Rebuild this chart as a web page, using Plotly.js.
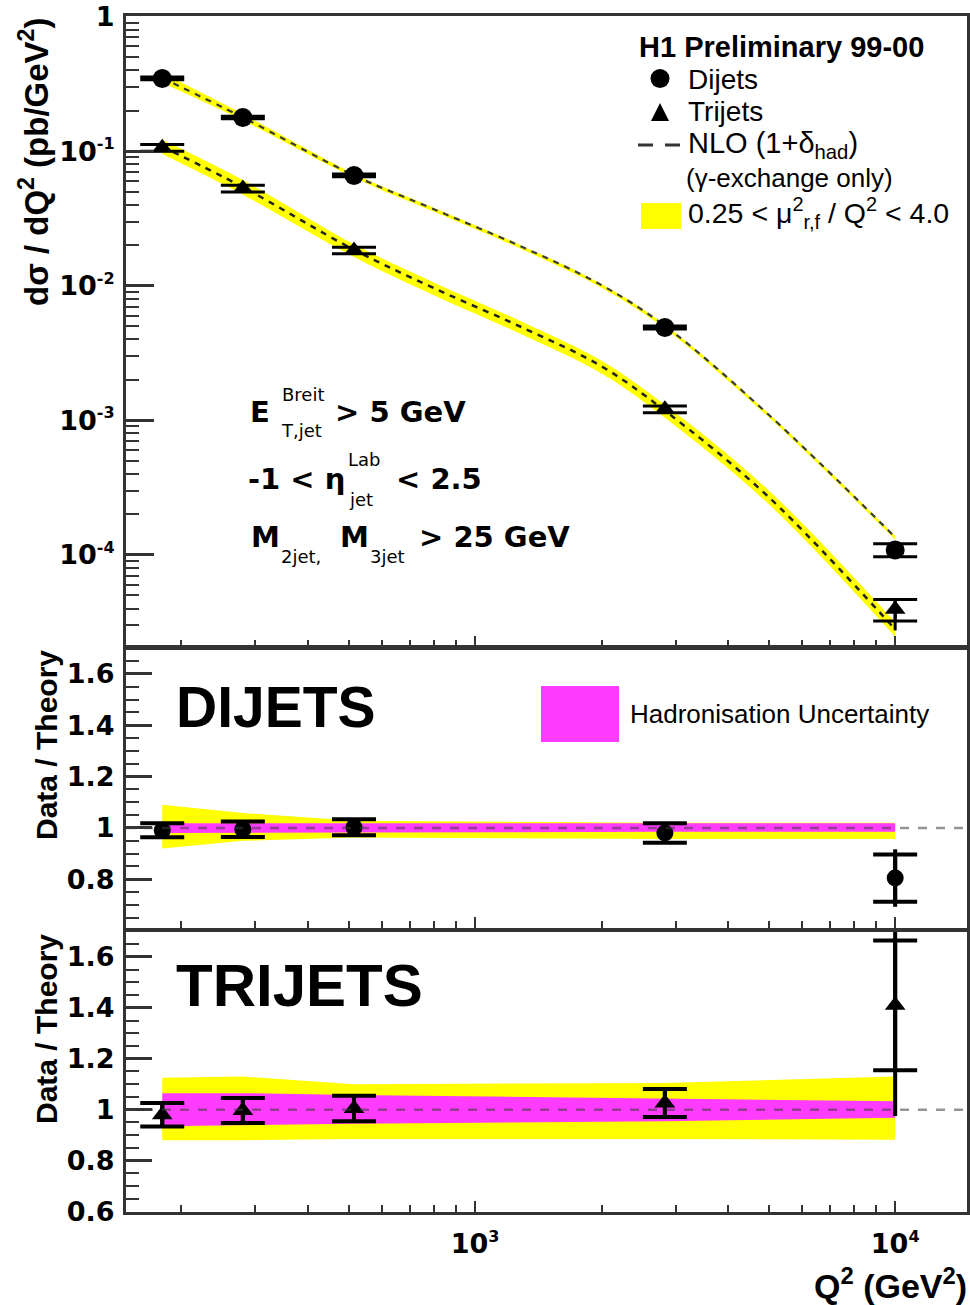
<!DOCTYPE html>
<html><head><meta charset="utf-8">
<script src="https://cdn.plot.ly/plotly-3.0.1.min.js"></script>
<style>html,body{margin:0;padding:0;background:#fff}#chart{width:970px;height:1305px}</style>
</head><body><div id="chart"></div>
<script>
// ---------- data ----------
const q2 = [180, 280, 515, 2830, 10000];              // GeV^2 (bin centres)

// top panel: cross sections dσ/dQ² (pb/GeV²)
const dijetXsec      = [0.347, 0.178, 0.066, 0.0049, 1.09e-4];
const dijetStatErr   = [0.008, 0.004, 0.0015, 0.00012, 1.2e-5];
const dijetTotErr    = [0.008, 0.004, 0.0015, 0.00012, 1.45e-5];
const trijetXsec     = [0.106, 0.0528, 0.0183, 0.00121, 3.95e-5];
const trijetStatErr  = [0.006, 0.003, 0.001, 0.00007, 0.72e-5];
const trijetTotErrUp = [0.006, 0.003, 0.001, 0.00007, 0.72e-5];
const trijetTotErrDn = [0.006, 0.003, 0.001, 0.00007, 1.2e-5];

// NLO (1+δhad) curves, top panel
const nloQ2     = [180, 280, 515, 800, 1300, 2000, 2830, 5000, 10000];
const nloDijet  = [0.350, 0.178, 0.066, 0.0369, 0.0193, 0.0101, 0.00503, 0.00110, 1.355e-4];
const nloTrijet = [0.108, 0.054, 0.0185, 0.00957, 0.00487, 0.00252, 0.00118, 2.69e-4, 2.8e-5];
// relative scale uncertainty (0.25 < μ²/Q² < 4) along the NLO curves
const nloDijetScaleUp   = [1.09, 1.058, 1.028, 1.024, 1.02, 1.02, 1.02, 1.02, 1.02];
const nloDijetScaleDn   = [0.92, 0.95, 0.963, 0.96, 0.958, 0.957, 0.957, 0.957, 0.957];
const nloTrijetScaleUp  = [1.125, 1.13, 1.10, 1.10, 1.10, 1.10, 1.105, 1.12, 1.13];
const nloTrijetScaleDn  = [0.88, 0.88, 0.885, 0.885, 0.885, 0.885, 0.885, 0.884, 0.882];

// middle panel: dijet Data / Theory
const dijetRatio     = [0.991, 0.995, 1.003, 0.98, 0.805];
const dijetRatioStat = [0.027, 0.030, 0.031, 0.038, 0.092];
const dijetRatioTot  = [0.027, 0.030, 0.031, 0.038, 0.112];
const dijetScaleHi   = [1.09, 1.058, 1.028, 1.02, 1.02];
const dijetScaleLo   = [0.92, 0.95, 0.963, 0.957, 0.957];
const dijetHadHi     = [1.018, 1.018, 1.018, 1.018, 1.018];
const dijetHadLo     = [0.98, 0.98, 0.982, 0.985, 0.985];

// bottom panel: trijet Data / Theory
const trijetRatio      = [0.98, 0.997, 1.005, 1.026, 1.41];
const trijetRatioStat  = [0.046, 0.049, 0.050, 0.055, 0.255];
const trijetRatioTotUp = [0.046, 0.049, 0.050, 0.055, 0.60];
const trijetRatioTotDn = [0.046, 0.049, 0.050, 0.055, 0.435];
const trijetScaleHi    = [1.125, 1.13, 1.10, 1.105, 1.13];
const trijetScaleLo    = [0.88, 0.88, 0.885, 0.885, 0.882];
const trijetHadHi      = [1.065, 1.065, 1.058, 1.045, 1.033];
const trijetHadLo      = [0.935, 0.94, 0.945, 0.955, 0.968];

// tick labels
const yTopTickVals = [1e-4, 1e-3, 1e-2, 1e-1, 1];
const yTopTickText = ['10<sup><span style="font-size:16px">-4</span></sup>', '10<sup><span style="font-size:16px">-3</span></sup>',
                      '10<sup><span style="font-size:16px">-2</span></sup>', '10<sup><span style="font-size:16px">-1</span></sup>', '1'];
const yRatioTickVals = [0.6, 0.8, 1, 1.2, 1.4, 1.6];
const xTickVals = [1000, 10000];
const xTickText = ['10<sup><span style="font-size:16px">3</span></sup>', '10<sup><span style="font-size:16px">4</span></sup>'];

// ---------- drawing ----------
const FONT = 'Liberation Sans, Arial, Helvetica, sans-serif';
const DV = 'DejaVu Sans, Verdana, sans-serif';
const YEL = '#ffff00', MAG = '#ff3cff';
const L = 126, R = 967, T = 16, B = 1212, W = R - L, H = B - T;
const px = x => (x - L) / W, py = y => (B - y) / H;

function band(x, lo, hi, color, xa, ya, shape) {
  return [
    {x: x, y: lo, xaxis: xa, yaxis: ya, mode: 'lines', line: {width: 0, color: color, shape: shape || 'linear'}, hoverinfo: 'skip', showlegend: false},
    {x: x, y: hi, xaxis: xa, yaxis: ya, mode: 'lines', line: {width: 0, color: color, shape: shape || 'linear'}, fill: 'tonexty', fillcolor: color, hoverinfo: 'skip', showlegend: false}
  ];
}
const mul = (a, b) => a.map((v, i) => v * b[i]);

function dataTraces(x, y, statErr, totUp, totDn, symbol, size, xa, ya, thick) {
  return [
    {x: x, y: y, xaxis: xa, yaxis: ya, mode: 'markers', marker: {size: 1, opacity: 0},
     error_y: {type: 'data', symmetric: false, array: totUp, arrayminus: totDn, width: 0, thickness: thick, color: '#000'},
     showlegend: false, hoverinfo: 'skip'},
    {x: x, y: y, xaxis: xa, yaxis: ya, mode: 'markers', marker: {symbol: symbol, size: size, color: '#000'},
     error_y: {type: 'data', array: statErr, width: 22, thickness: thick, color: '#000'},
     showlegend: false}
  ];
}

const traces = [
  // top panel
  ...band(nloQ2, mul(nloDijet, nloDijetScaleDn), mul(nloDijet, nloDijetScaleUp), YEL, 'x', 'y', 'spline'),
  ...band(nloQ2, mul(nloTrijet, nloTrijetScaleDn), mul(nloTrijet, nloTrijetScaleUp), YEL, 'x', 'y', 'spline'),
  {x: nloQ2, y: nloDijet, xaxis: 'x', yaxis: 'y', mode: 'lines', line: {color: '#3a3a3a', width: 2.2, dash: '6px,6px', shape: 'spline'}, showlegend: false},
  {x: nloQ2, y: nloTrijet, xaxis: 'x', yaxis: 'y', mode: 'lines', line: {color: '#222', width: 2.5, dash: '6px,6px', shape: 'spline'}, showlegend: false},
  ...dataTraces(q2, dijetXsec, dijetStatErr, dijetTotErr, dijetTotErr, 'circle', 19, 'x', 'y', 3),
  ...dataTraces(q2, trijetXsec, trijetStatErr, trijetTotErrUp, trijetTotErrDn, 'triangle-up', 18, 'x', 'y', 3),
  // middle panel
  ...band(q2, dijetScaleLo, dijetScaleHi, YEL, 'x2', 'y2'),
  ...band(q2, dijetHadLo, dijetHadHi, MAG, 'x2', 'y2'),
  ...dataTraces(q2, dijetRatio, dijetRatioStat, dijetRatioTot, dijetRatioTot, 'circle', 17, 'x2', 'y2', 4),
  // bottom panel
  ...band(q2, trijetScaleLo, trijetScaleHi, YEL, 'x3', 'y3'),
  ...band(q2, trijetHadLo, trijetHadHi, MAG, 'x3', 'y3'),
  ...dataTraces(q2, trijetRatio, trijetRatioStat, trijetRatioTotUp, trijetRatioTotDn, 'triangle-up', 18, 'x3', 'y3', 4)
];

const XR = [2.169, 4.171];
const frame = {showline: true, linewidth: 3, linecolor: '#333', mirror: true, showgrid: false, zeroline: false};
const tickfont = {family: DV, size: 27, color: '#000', weight: 'bold'};
const xCommon = Object.assign({}, frame, {
  type: 'log', range: XR, dtick: 1, ticks: 'inside', ticklen: 11, tickwidth: 2, tickcolor: '#333',
  minor: {ticks: 'inside', ticklen: 7, tickwidth: 2, tickcolor: '#333', dtick: 'D1'},
  tickfont: tickfont
});
const yRatio = Object.assign({}, frame, {
  ticks: 'inside', ticklen: 26, tickwidth: 3, tickcolor: '#333',
  minor: {ticks: 'inside', ticklen: 13, tickwidth: 2, tickcolor: '#333', dtick: 0.05},
  tickfont: tickfont, ticklabelstandoff: 3, tickmode: 'array', tickvals: yRatioTickVals
});

const ann = (text, x, y, size, o, fam) => Object.assign({
  text: text, x: px(x), y: py(y), xref: 'paper', yref: 'paper', xanchor: 'left', yanchor: 'middle',
  showarrow: false, font: {family: fam || FONT, size: size, color: '#000'}
}, o || {});

const annotations = [
  // legend (top)
  ann('<b>H1 Preliminary 99-00</b>', 637, 47, 29),
  ann('Dijets', 686, 79, 28),
  ann('Trijets', 686, 112, 28),
  ann('NLO (1+δ<sub>had</sub>)', 686, 145, 29),
  ann('(γ-exchange only)', 684, 178, 26),
  ann('0.25 < μ<sup>2</sup><sub>r,f</sub> / Q<sup>2</sup> < 4.0', 686, 213, 28.5),
  // cuts
  ann('<b>E</b>', 248, 412, 29, null, DV),
  ann('Breit', 280, 395, 18, null, DV),
  ann('T,jet', 279, 430, 18, null, DV),
  ann('<b>> 5 GeV</b>', 333, 412, 29, null, DV),
  ann('<b>-1 < η</b>', 246, 479, 29, null, DV),
  ann('Lab', 346, 460, 18, null, DV),
  ann('jet', 347, 499, 18, null, DV),
  ann('<b>< 2.5</b>', 394, 479, 29, null, DV),
  ann('<b>M</b>', 249, 537, 29, null, DV),
  ann('2jet,', 279, 556, 18, null, DV),
  ann('<b>M</b>', 338, 537, 29, null, DV),
  ann('3jet', 368, 556, 18, null, DV),
  ann('<b>> 25 GeV</b>', 417, 537, 29, null, DV),
  // panel labels
  ann('<b>DIJETS</b>', 174, 707, 57),
  ann('Hadronisation Uncertainty', 628, 714, 26),
  ann('<b>TRIJETS</b>', 174, 985, 60),
  // axis titles
  ann('<b>dσ / dQ<sup>2</sup> (pb/GeV<sup>2</sup>)</b>', 34, 16, 33, {xanchor: 'center', yanchor: 'top', textangle: -90}),
  ann('<b>Data / Theory</b>', 46, 648, 30, {xanchor: 'center', yanchor: 'top', textangle: -90}),
  ann('<b>Data / Theory</b>', 46, 932, 30, {xanchor: 'center', yanchor: 'top', textangle: -90}),
  ann('<b>Q<sup>2</sup> (GeV<sup>2</sup>)</b>', 969, 1283, 34, {xanchor: 'right'})
];

const shapes = [
  // legend symbols
  {type: 'circle', xref: 'paper', yref: 'paper', x0: px(650.5), x1: px(669.5), y0: py(88), y1: py(69), fillcolor: '#000', line: {width: 0}},
  {type: 'path', xref: 'paper', yref: 'paper', path: `M ${px(651)} ${py(121)} L ${px(669)} ${py(121)} L ${px(660)} ${py(103)} Z`, fillcolor: '#000', line: {width: 0}},
  {type: 'line', xref: 'paper', yref: 'paper', x0: px(638), x1: px(681), y0: py(145), y1: py(145), line: {color: '#333', width: 3, dash: '15px,12px'}},
  {type: 'rect', xref: 'paper', yref: 'paper', x0: px(641), x1: px(681), y0: py(229), y1: py(203), fillcolor: YEL, line: {width: 0}},
  {type: 'rect', xref: 'paper', yref: 'paper', x0: px(541), x1: px(619), y0: py(742), y1: py(686), fillcolor: MAG, line: {width: 0}},
  // Data/Theory = 1 reference lines
  {type: 'line', xref: 'paper', yref: 'y2', x0: 0, x1: 1, y0: 1, y1: 1, line: {color: 'rgba(60,60,60,0.55)', width: 2.5, dash: '9px,9px'}},
  {type: 'line', xref: 'paper', yref: 'y3', x0: 0, x1: 1, y0: 1, y1: 1, line: {color: 'rgba(60,60,60,0.55)', width: 2.5, dash: '9px,9px'}}
];

const layout = {
  width: 970, height: 1305, margin: {l: L, r: 970 - R, t: T, b: 1305 - B},
  paper_bgcolor: '#fff', plot_bgcolor: '#fff', showlegend: false,
  font: {family: FONT, color: '#000'},
  xaxis:  Object.assign({}, xCommon, {anchor: 'y', showticklabels: false}),
  xaxis2: Object.assign({}, xCommon, {anchor: 'y2', matches: 'x', showticklabels: false}),
  xaxis3: Object.assign({}, xCommon, {anchor: 'y3', matches: 'x', showticklabels: true, ticklabelstandoff: 6,
                                      tickmode: 'array', tickvals: xTickVals, ticktext: xTickText}),
  yaxis: Object.assign({}, frame, {
    type: 'log', range: [-4.684, 0.004], domain: [py(647), 1], anchor: 'x',
    tickmode: 'array', tickvals: yTopTickVals, ticktext: yTopTickText,
    ticks: 'inside', ticklen: 28, tickwidth: 3, tickcolor: '#333',
    minor: {ticks: 'inside', ticklen: 13, tickwidth: 2, tickcolor: '#333', dtick: 'D1'},
    tickfont: tickfont, ticklabelstandoff: 3
  }),
  yaxis2: Object.assign({}, yRatio, {range: [0.6104, 1.701], domain: [py(928), py(648)], anchor: 'x2'}),
  yaxis3: Object.assign({}, yRatio, {range: [0.598, 1.698], domain: [0, py(932)], anchor: 'x3'}),
  annotations: annotations,
  shapes: shapes
};

Plotly.newPlot('chart', traces, layout, {displayModeBar: false, staticPlot: true});
</script>
</body></html>
